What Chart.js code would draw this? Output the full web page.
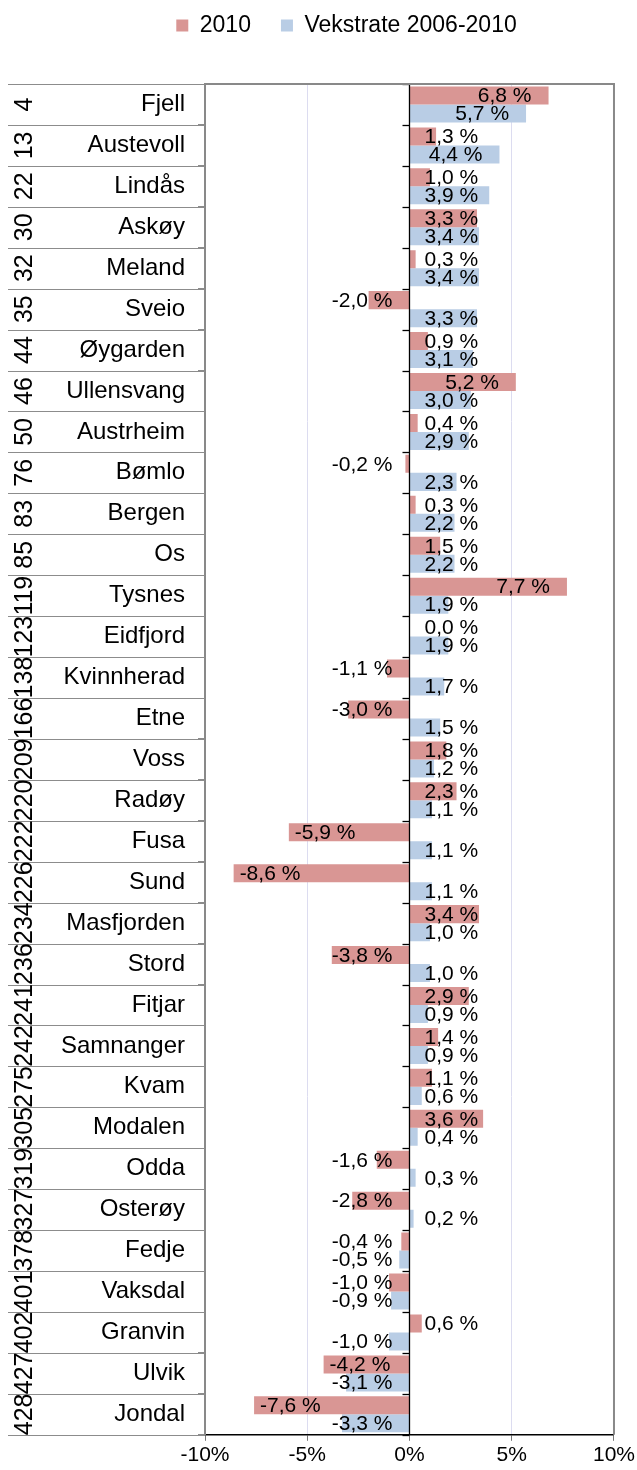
<!DOCTYPE html>
<html>
<head>
<meta charset="utf-8">
<script src="https://cdn.jsdelivr.net/npm/chart.js@4"></script>
<style>
html, body { margin: 0; padding: 0; background: #fff; }
#wrap { width: 637px; height: 1470px; }
</style>
</head>
<body>
<div id="wrap"><canvas id="vekst"></canvas></div>
<script>
/* Befolkningsvekst 2010 og vekstrate 2006-2010, kommunar sortert etter rangering */

const ranks = [4, 13, 22, 30, 32, 35, 44, 46, 50, 76, 83, 85, 119, 123, 138, 166, 209,
  220, 222, 226, 234, 236, 241, 242, 275, 305, 319, 327, 378, 401, 402, 427, 428]
const kommuner = ["Fjell", "Austevoll", "Lindås", "Askøy", "Meland", "Sveio", "Øygarden",
  "Ullensvang", "Austrheim", "Bømlo", "Bergen", "Os", "Tysnes", "Eidfjord", "Kvinnherad",
  "Etne", "Voss", "Radøy", "Fusa", "Sund", "Masfjorden", "Stord", "Fitjar", "Samnanger",
  "Kvam", "Modalen", "Odda", "Osterøy", "Fedje", "Vaksdal", "Granvin", "Ulvik", "Jondal"]
const vekst2010 = [6.8, 1.3, 1.0, 3.3, 0.3, -2.0, 0.9, 5.2, 0.4, -0.2, 0.3, 1.5, 7.7, 0.0,
  -1.1, -3.0, 1.8, 2.3, -5.9, -8.6, 3.4, -3.8, 2.9, 1.4, 1.1, 3.6, -1.6, -2.8, -0.4, -1.0,
  0.6, -4.2, -7.6]
const vekstrate = [5.7, 4.4, 3.9, 3.4, 3.4, 3.3, 3.1, 3.0, 2.9, 2.3, 2.2, 2.2, 1.9, 1.9,
  1.7, 1.5, 1.2, 1.1, 1.1, 1.1, 1.0, 1.0, 0.9, 0.9, 0.6, 0.4, 0.3, 0.2, -0.5, -0.9, -1.0,
  -3.1, -3.3]
const xTicks = [-10, -5, 0, 5, 10]

const FONT = '"Liberation Sans", Arial, sans-serif'
Chart.defaults.font.family = FONT
Chart.defaults.color = '#000'

const fmt = v => v.toFixed(1).replace('.', ',') + ' %'

// rangnummer, skiljelinjer, ramme og verdietikettar
const tegnEkstra = {
  id: 'tegnEkstra',
  beforeInit(chart) {
    const lg = chart.legend
    if (!lg) return
    const fit = lg.fit
    // legend starts at -16 (layout padding), plot must start at y=84
    lg.fit = function () { fit.call(this); this.height = 100 }
  },
  afterDatasetsDraw(chart) {
    const ctx = chart.ctx
    const a = chart.chartArea
    const xs = chart.scales.x
    const ys = chart.scales.y
    const x0 = xs.getPixelForValue(0)
    const n = kommuner.length
    const step = (a.bottom - a.top) / n
    const line = (x1, y1, x2, y2) => {
      ctx.beginPath(); ctx.moveTo(x1, y1); ctx.lineTo(x2, y2); ctx.stroke()
    }
    ctx.save()

    // nullinje og små merke
    ctx.strokeStyle = '#000'
    ctx.lineWidth = 1.3
    line(x0, a.top, x0, a.bottom)
    for (let i = 0; i <= n; i++) {
      const y = Math.round(a.top + i * step) + 0.5
      line(x0 - 7, y, x0, y)
    }

    // ramme oppe og til høgre
    ctx.strokeStyle = '#898989'
    ctx.lineWidth = 2
    line(a.left, a.top, a.right + 1, a.top)
    line(a.right, a.top, a.right, a.bottom)

    // skiljelinjer i etikettfeltet
    ctx.strokeStyle = '#8c8c8c'
    ctx.lineWidth = 1
    for (let i = 0; i <= n; i++) {
      const y = Math.round(a.top + i * step) + 0.5
      line(8, y, a.left, y)
    }

    // rangnummer, rotert
    ctx.fillStyle = '#000'
    ctx.font = '25px ' + FONT
    ctx.textAlign = 'center'
    ctx.textBaseline = 'middle'
    ranks.forEach((r, i) => {
      ctx.save()
      ctx.translate(24, ys.getPixelForValue(i))
      ctx.rotate(-Math.PI / 2)
      ctx.fillText(String(r), 0, 1)
      ctx.restore()
    })

    // verdietikettar
    ctx.font = '21px ' + FONT
    ctx.textAlign = 'left'
    chart.data.datasets.forEach((ds, di) => {
      chart.getDatasetMeta(di).data.forEach((bar, i) => {
        const v = ds.data[i]
        const t = fmt(v)
        const w = ctx.measureText(t).width
        let left
        if (v >= 0) {
          left = Math.max(bar.x - 17, x0 + 15 + w) - w
        } else {
          left = Math.min(bar.x + 6, x0 - 17 - w)
        }
        ctx.fillText(t, left, bar.y + 1)
      })
    })
    ctx.restore()
  }
}

new Chart(document.getElementById('vekst'), {
  type: 'bar',
  data: {
    labels: kommuner,
    datasets: [
      {
        label: '2010',
        data: vekst2010,
        backgroundColor: '#d99694',
        categoryPercentage: 0.88,
        barPercentage: 1.0
      },
      {
        label: 'Vekstrate 2006-2010',
        data: vekstrate,
        backgroundColor: '#b9cde5',
        categoryPercentage: 0.88,
        barPercentage: 1.0
      }
    ]
  },
  options: {
    indexAxis: 'y',
    responsive: true,
    maintainAspectRatio: false,
    animation: false,
    layout: { padding: { left: 56, top: -16, right: 0, bottom: 0 } },
    plugins: {
      tooltip: { enabled: false },
      legend: {
        position: 'top',
        labels: {
          font: { size: 23 },
          color: '#000',
          boxWidth: 12,
          boxHeight: 12,
          padding: 30
        }
      }
    },
    scales: {
      x: {
        min: -10,
        max: 10,
        afterBuildTicks: s => { s.ticks = xTicks.map(v => ({ value: v })) },
        ticks: {
          font: { size: 21 },
          color: '#000',
          padding: 2,
          maxRotation: 0,
          callback: v => v + '%'
        },
        grid: {
          color: c => (c.tick && Math.abs(c.tick.value) === 10) ? 'rgba(0,0,0,0)'
            : (c.tick && c.tick.value === 0 ? '#000' : '#dcdcf0'),
          tickColor: '#777',
          tickLength: 6
        },
        border: { color: '#000', width: 1.5 }
      },
      y: {
        afterFit: s => { s.width = 149 },
        ticks: {
          font: { size: 24 },
          color: '#000',
          padding: 13,
          autoSkip: false
        },
        grid: {
          drawOnChartArea: false,
          color: '#8c8c8c',
          tickLength: 7
        },
        border: { color: '#898989', width: 2 }
      }
    }
  },
  plugins: [tegnEkstra]
})
</script>
</body>
</html>
